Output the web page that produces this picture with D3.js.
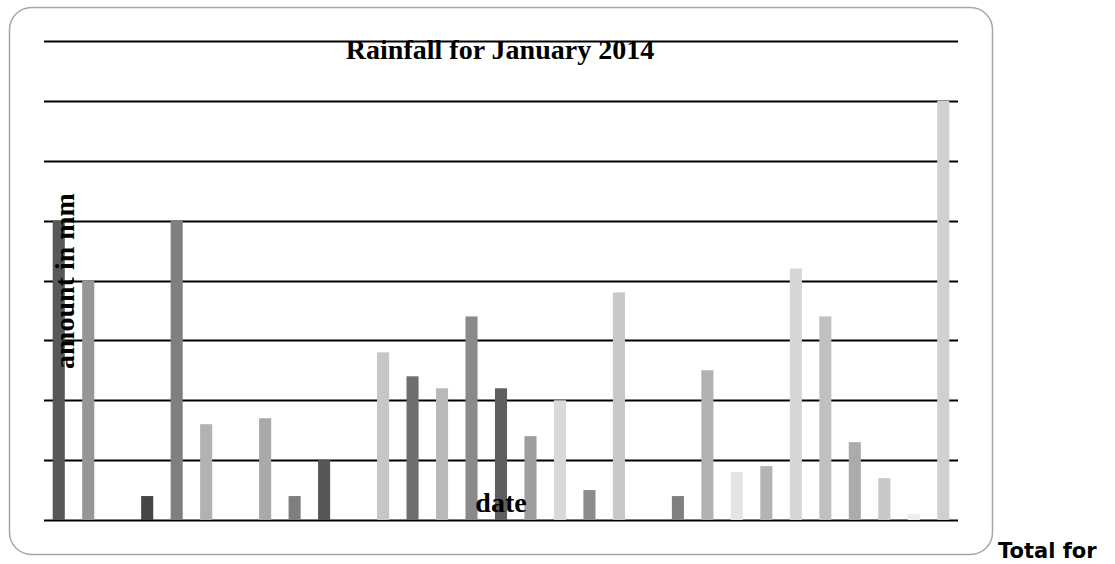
<!DOCTYPE html>
<html><head><meta charset="utf-8">
<script src="https://d3js.org/d3.v7.min.js"></script>
<style>html,body{margin:0;padding:0;background:#fff;}svg{display:block;}</style>
</head><body>
<script>
const days = d3.range(1, 32).map(String);
const rainfall = [25, 20, 0, 2, 25, 8, 0, 8.5, 2, 5, 0, 14, 12, 11, 17, 11, 7, 10, 2.5, 19, 0, 2, 12.5, 4, 4.5, 21, 17, 6.5, 3.5, 0.5, 35];
const barColors = ["#585858","#969696","#888888","#464646","#7f7f7f","#b2b2b2","#999999","#a9a9a9","#7f7f7f","#575757",
  "#aaaaaa","#c6c6c6","#6e6e6e","#b9b9b9","#8a8a8a","#5e5e5e","#9e9e9e","#d9d9d9","#8c8c8c","#c8c8c8",
  "#999999","#808080","#b1b1b1","#e4e4e4","#b3b3b3","#d6d6d6","#c0c0c0","#ababab","#c8c8c8","#eeeeee","#d0d0d0"];
const yTicks = [0, 5, 10, 15, 20, 25, 30, 35, 40];
const title = "Rainfall for January 2014";
const yTitle = "amount in mm";
const xTitle = "date";
const footer = "Total for";

const W = 1115, H = 564;
const svg = d3.select("body").append("svg").attr("width", W).attr("height", H);

svg.append("rect").attr("x", 9.5).attr("y", 7.5).attr("width", 983).attr("height", 547)
  .attr("rx", 22).attr("ry", 22).attr("fill", "#fff").attr("stroke", "#a6a6a6").attr("stroke-width", 1.5);

const x = d3.scaleBand().domain(days).range([44, 958]).paddingInner(0.59).paddingOuter(0.295);
const y = d3.scaleLinear().domain([0, 40]).range([520, 41]);

const grid = svg.append("g");
grid.selectAll("line").data(yTicks).join("line")
  .attr("x1", 44).attr("x2", 958)
  .attr("y1", d => Math.round(y(d)) + 0.5).attr("y2", d => Math.round(y(d)) + 0.5)
  .attr("stroke", "#000").attr("stroke-width", 2);

svg.append("g").selectAll("rect").data(rainfall).join("rect")
  .attr("x", (d, i) => x(days[i]))
  .attr("width", x.bandwidth())
  .attr("y", d => y(d))
  .attr("height", d => y(0) - y(d))
  .attr("fill", (d, i) => barColors[i]);

svg.append("text").attr("x", 500).attr("y", 59).attr("text-anchor", "middle")
  .attr("font-family", "Liberation Serif, serif").attr("font-weight", "bold").attr("font-size", 28)
  .attr("fill", "#000").text(title);

svg.append("text").attr("transform", "translate(74,281) rotate(-90)").attr("text-anchor", "middle")
  .attr("font-family", "Liberation Serif, serif").attr("font-weight", "bold").attr("font-size", 28)
  .attr("fill", "#000").text(yTitle);

svg.append("text").attr("x", 501).attr("y", 512).attr("text-anchor", "middle")
  .attr("font-family", "Liberation Serif, serif").attr("font-weight", "bold").attr("font-size", 28)
  .attr("fill", "#000").text(xTitle);

svg.append("text").attr("x", 998).attr("y", 558)
  .attr("font-family", "DejaVu Sans, sans-serif").attr("font-weight", "bold").attr("font-size", 21)
  .attr("fill", "#000").text(footer);
</script>
</body></html>
